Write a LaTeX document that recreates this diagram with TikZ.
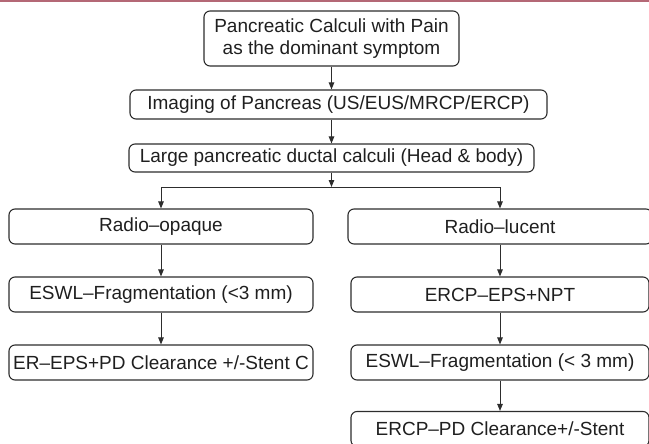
\documentclass[tikz,border=0pt]{standalone}
\usepackage{fontspec}
\setmainfont{Liberation Sans}
\usetikzlibrary{arrows.meta}
\definecolor{topline}{RGB}{180,104,118}
\definecolor{boxline}{RGB}{45,45,45}
\begin{document}
\begin{tikzpicture}[x=1pt,y=-1pt,
  every node/.style={font=\fontsize{19}{21.5}\selectfont, text=black!88},
  fbox/.style={draw=boxline, line width=1.1pt, rounded corners=6pt, inner sep=0pt, align=center},
  conn/.style={draw=boxline, line width=1pt},
  arr/.style={conn, -{Triangle[length=7pt,width=5.5pt]}}]
\useasboundingbox (0,0) rectangle (649,444);
\fill[topline] (0,0) rectangle (649,2.5);
\node[fbox, minimum width=255pt, minimum height=55pt] (top) at (331.5,38.5) {Pancreatic Calculi with Pain\\as the dominant symptom};
\node[fbox, minimum width=417pt, minimum height=29pt] (img) at (338.5,104.5) {Imaging of Pancreas (US/EUS/MRCP/ERCP)};
\node[fbox, minimum width=405pt, minimum height=28pt] (large) at (331.5,158) {Large pancreatic ductal calculi (Head \& body)};
\coordinate (split) at (331.5,187);
\node[fbox, minimum width=304pt, minimum height=35pt] (opq) at (161,226.5) {Radio--opaque};
\node[fbox, minimum width=304pt, minimum height=35pt] (luc) at (500,226.5) {Radio--lucent};
\node[fbox, minimum width=304pt, minimum height=35pt] (leswl) at (161,294.5) {ESWL--Fragmentation (<3 mm)};
\node[fbox, minimum width=298pt, minimum height=35pt] (ercp1) at (500,294.5) {ERCP--EPS+NPT};
\node[fbox, minimum width=304pt, minimum height=35pt] (er) at (161,362.5) {ER--EPS+PD Clearance +/-Stent C};
\node[fbox, minimum width=298pt, minimum height=35pt] (reswl) at (500,362.5) {ESWL--Fragmentation (< 3 mm)};
\node[fbox, minimum width=298pt, minimum height=35pt] (ercp2) at (500,429) {ERCP--PD Clearance+/-Stent};
\draw[arr] (top.south) -- (top.south |- img.north);
\draw[arr] (large.north |- img.south) -- (large.north);
\draw[arr] (large.south) -- (split);
\draw[conn] (opq.north |- split) -- (luc.north |- split);
\draw[arr] (opq.north |- split) -- (opq.north);
\draw[arr] (luc.north |- split) -- (luc.north);
\draw[arr] (opq) -- (leswl);
\draw[arr] (leswl) -- (er);
\draw[arr] (luc) -- (ercp1);
\draw[arr] (ercp1) -- (reswl);
\draw[arr] (reswl) -- (ercp2);
\end{tikzpicture}
\end{document}
